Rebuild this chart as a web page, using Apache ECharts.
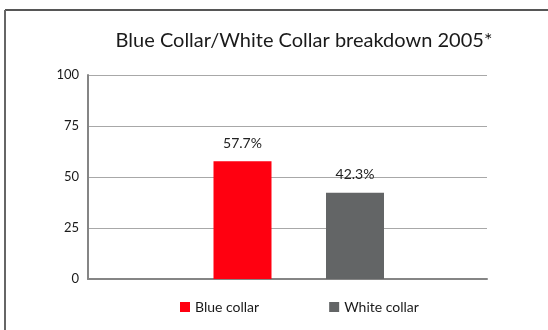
<!DOCTYPE html>
<html>
<head>
<meta charset="utf-8">
<script src="https://cdn.jsdelivr.net/npm/echarts@6/dist/echarts.min.js"></script>
<style>
  html, body { margin: 0; padding: 0; background: #fff; }
  #chart { width: 548px; height: 330px; }
</style>
</head>
<body>
<div id="chart"></div>
<script>
// Workforce split, 2005 (percent of total)
const categories = ['Blue collar', 'White collar'];
const shares = [57.7, 42.3];
const barColors = ['#ff0010', '#636566'];
const titleText = 'Blue Collar/White Collar breakdown 2005*';

const FONT = 'Lato';

const chart = echarts.init(document.getElementById('chart'), null, { renderer: 'canvas' });

// one series per category so each gets its own legend entry and colour
const series = categories.map((name, i) => ({
  name: name,
  type: 'bar',
  xAxisIndex: 1,
  yAxisIndex: 1,
  stack: 'all',
  barWidth: 58,
  itemStyle: { color: barColors[i] },
  label: {
    show: true,
    position: 'top',
    distance: 11,
    formatter: '{c}%',
    fontFamily: FONT,
    fontSize: 14,
    color: '#222'
  },
  data: categories.map((c, j) => (j === i ? shares[i] : '-'))
}));

chart.setOption({
  animation: false,
  title: {
    text: titleText,
    left: 299,
    textAlign: 'center',
    top: 26,
    textStyle: { fontFamily: FONT, fontSize: 20, fontWeight: 'normal', color: '#1a1a1a' }
  },
  legend: {
    data: categories,
    left: 175,
    top: 295,
    icon: 'rect',
    itemWidth: 10,
    itemHeight: 10,
    itemGap: 70,
    textStyle: { fontFamily: FONT, fontSize: 14, color: '#1a1a1a' }
  },
  graphic: [
    // frame: top and left rules
    { type: 'line', shape: { x1: 5, y1: 10, x2: 560, y2: 10 }, style: { stroke: '#1e1e1e', lineWidth: 1.5 } },
    { type: 'line', shape: { x1: 5, y1: 10, x2: 5, y2: 340 }, style: { stroke: '#666', lineWidth: 2 } }
  ],
  grid: [
    // axis frame and gridlines
    { left: 88, right: 61, top: 75, bottom: 51, containLabel: false },
    // bar placement
    { left: 186.25, right: 136.75, top: 75, bottom: 51, containLabel: false }
  ],
  xAxis: [
    {
      type: 'category',
      gridIndex: 0,
      data: categories,
      axisLine: { show: true, lineStyle: { color: '#858585', width: 2 } },
      axisTick: { show: false },
      axisLabel: { show: false }
    },
    {
      type: 'category',
      gridIndex: 1,
      data: categories,
      axisLine: { show: false },
      axisTick: { show: false },
      axisLabel: { show: false }
    }
  ],
  yAxis: [
    {
      type: 'value',
      gridIndex: 0,
      min: 0,
      max: 100,
      interval: 25,
      axisLine: { show: true, lineStyle: { color: '#858585', width: 2 } },
      axisTick: { show: false },
      axisLabel: { fontFamily: FONT, fontSize: 13, color: '#1a1a1a', margin: 9 },
      splitLine: { show: true, lineStyle: { color: '#a8a8a8', width: 1 } }
    },
    {
      type: 'value',
      gridIndex: 1,
      min: 0,
      max: 100,
      interval: 25,
      axisLine: { show: false },
      axisTick: { show: false },
      axisLabel: { show: false },
      splitLine: { show: false }
    }
  ],
  series: series
});
</script>
</body>
</html>
